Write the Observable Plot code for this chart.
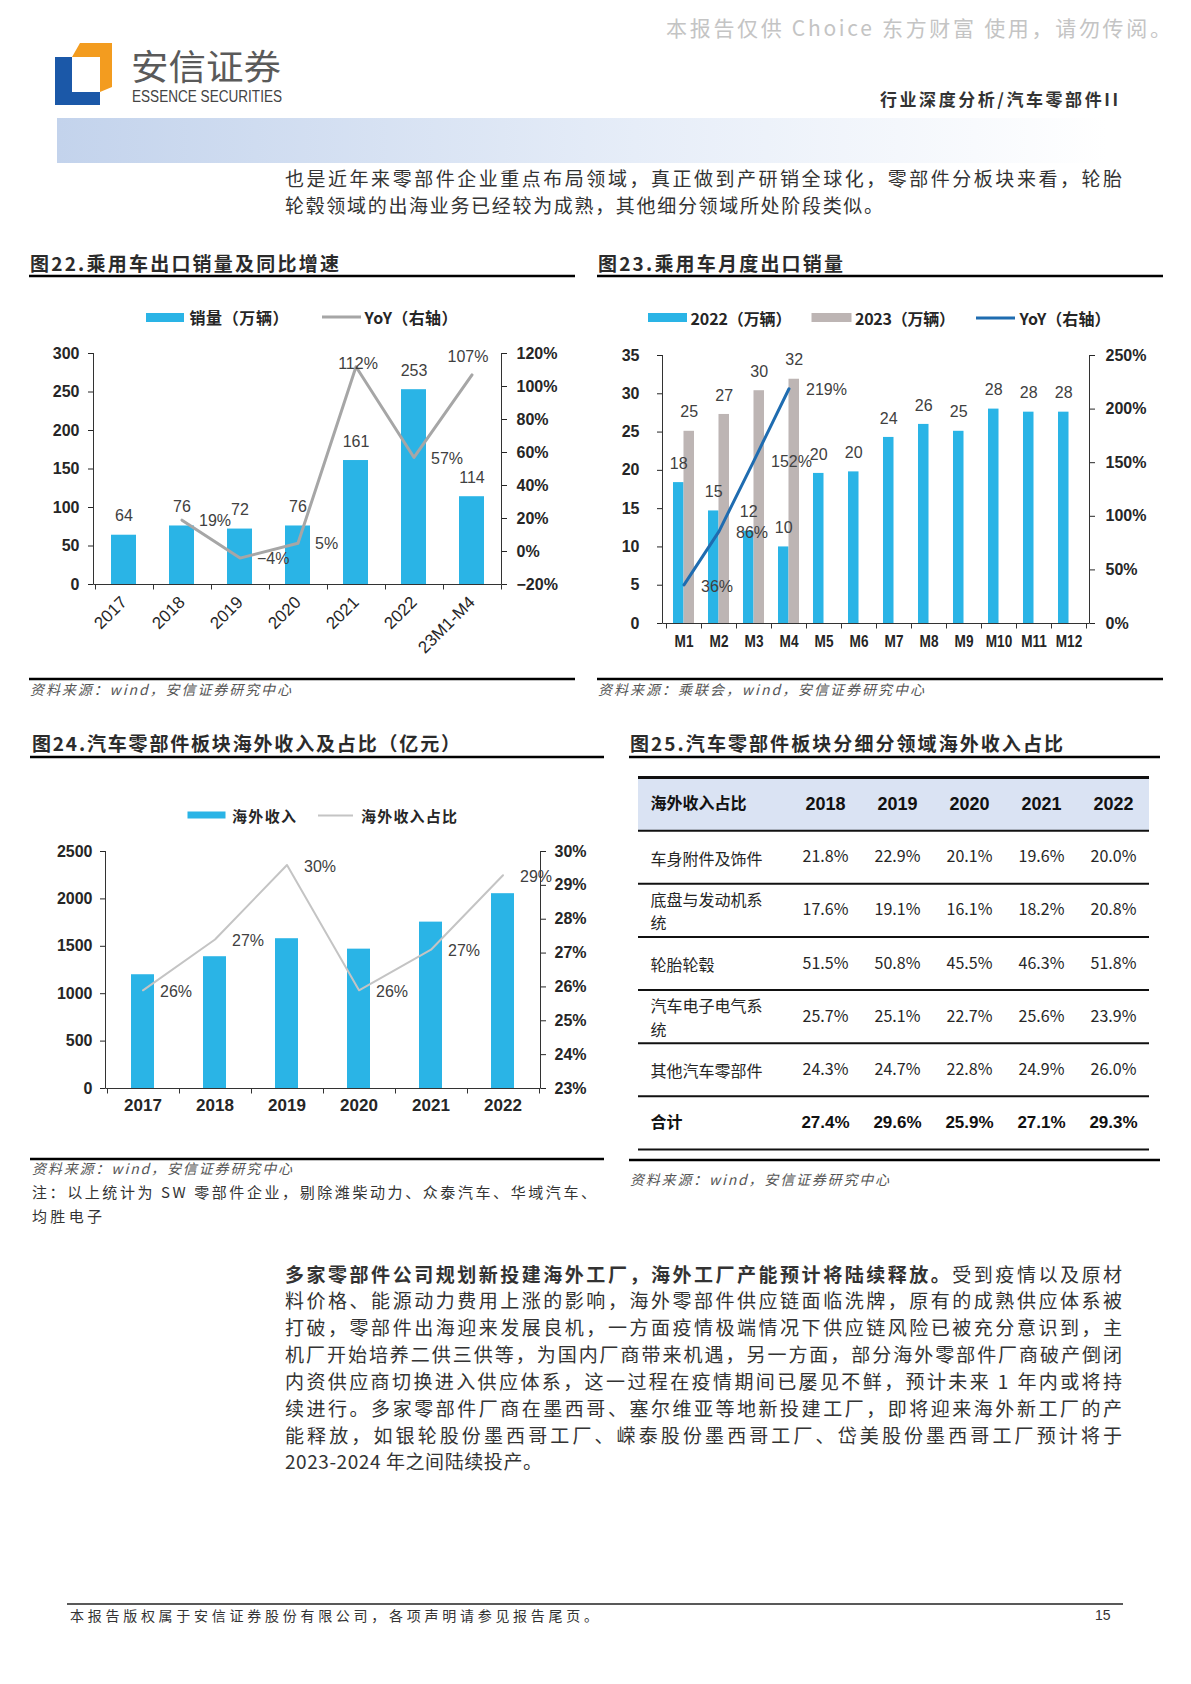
<!DOCTYPE html>
<html><head><meta charset="utf-8">
<script src="https://cdn.jsdelivr.net/npm/d3@7"></script>
<script src="https://cdn.jsdelivr.net/npm/@observablehq/plot@0.6"></script>
<style>
html,body{margin:0;padding:0;background:#fff;}
#page{position:relative;width:1191px;height:1684px;overflow:hidden;background:#fff;}
#page > svg, #page > figure{position:absolute;margin:0;}
</style></head>
<body><div id="page"><svg id="bg" width="1191" height="1684" style="left:0;top:0"></svg></div>
<script>
// ================= DATA =================
// Fig 22
const years22 = ["2017", "2018", "2019", "2020", "2021", "2022", "23M1-M4"];
const sales22 = [64, 76, 72, 76, 161, 253, 114];
const yoy22 = [null, 19, -4, 5, 112, 57, 107];
const leftTicks22 = [0, 50, 100, 150, 200, 250, 300];
const rightTicks22 = [-20, 0, 20, 40, 60, 80, 100, 120];
// Fig 23
const months23 = ["M1", "M2", "M3", "M4", "M5", "M6", "M7", "M8", "M9", "M10", "M11", "M12"];
const exports2022 = [18.4, 14.7, 12.05, 10.0, 19.6, 19.8, 24.3, 26.0, 25.1, 28.0, 27.6, 27.6];
const exports2023 = [25.1, 27.3, 30.4, 31.9];
const yoy23 = [36, 86, 152, 219];
const leftTicks23 = [0, 5, 10, 15, 20, 25, 30, 35];
const rightTicks23 = [0, 50, 100, 150, 200, 250];
// Fig 24
const years24 = ["2017", "2018", "2019", "2020", "2021", "2022"];
const overseasRev24 = [1200, 1390, 1580, 1470, 1755, 2055];
const overseasShare24 = [25.9, 27.4, 29.6, 25.9, 27.1, 29.3];
const leftTicks24 = [0, 500, 1000, 1500, 2000, 2500];
const rightTicks24 = [23, 24, 25, 26, 27, 28, 29, 30];
// Fig 25 table
const tableHeader = "海外收入占比";
const tableYears = ["2018", "2019", "2020", "2021", "2022"];
const tableRowNames = ["车身附件及饰件", "底盘与发动机系\n统", "轮胎轮毂", "汽车电子电气系\n统", "其他汽车零部件"];
const shareBodyParts = [21.8, 22.9, 20.1, 19.6, 20.0];
const shareChassis = [17.6, 19.1, 16.1, 18.2, 20.8];
const shareTyres = [51.5, 50.8, 45.5, 46.3, 51.8];
const shareElectronics = [25.7, 25.1, 22.7, 25.6, 23.9];
const shareOthers = [24.3, 24.7, 22.8, 24.9, 26.0];
const totalName = "合计";
const shareTotal = [27.4, 29.6, 25.9, 27.1, 29.3];

// ================= STYLE =================
const BLUE = "#2ab4e6", GRAY23 = "#bdb5b4", YOY23 = "#1f6cb0", LINE22 = "#a6a6a6", LINE24 = "#c4c4c4";
const AXIS = "#333";
const FNUM = "'Liberation Sans', Arial, sans-serif";
const FNARROW = "'Liberation Sans Narrow', 'Arial Narrow', 'Liberation Sans', sans-serif";
const FCJK = "'Noto Sans CJK SC', 'Noto Sans', sans-serif";
const pct = v => (v < 0 ? "\u2212" + Math.abs(v) : String(v)) + "%";
const page = document.getElementById("page");
const bg = d3.select("#bg");

function T(s, x, y, o = {}) {
  const t = bg.append("text").attr("x", x).attr("y", y)
    .attr("dominant-baseline", "central")
    .attr("font-family", o.family || FCJK)
    .attr("font-size", o.size || 16)
    .attr("font-weight", o.weight || "normal")
    .attr("fill", o.fill || "#333");
  if (o.italic) t.attr("font-style", "italic");
  if (o.anchor) t.attr("text-anchor", o.anchor);
  if (o.len) t.attr("textLength", o.len).attr("lengthAdjust", o.adjust || "spacing");
  if (o.parts) o.parts.forEach(p => t.append("tspan").attr("font-weight", p.weight || "normal").text(p.text));
  else t.text(s);
  return t;
}
function L(x1, x2, y, w = 2, c = "#000") {
  bg.append("line").attr("x1", x1).attr("x2", x2).attr("y1", y).attr("y2", y).attr("stroke", c).attr("stroke-width", w);
}
function place(el, left, top) { el.style.left = left + "px"; el.style.top = top + "px"; page.appendChild(el); }
// condense already-rendered labels (simulates a narrow typeface)
function condense(svg, selector, factor) {
  d3.select(svg).selectAll(selector).each(function () {
    const w = this.getComputedTextLength();
    if (w > 0) d3.select(this).attr("textLength", w * factor).attr("lengthAdjust", "spacingAndGlyphs");
  });
}

function frameEdges(sides) {
  return (index, scales, values, dims) => {
    const {width, height, marginLeft: ml, marginRight: mr, marginTop: mt, marginBottom: mb} = dims;
    const Lx = Math.round(ml) + 0.5, R = Math.round(width - mr) + 0.5, B = Math.round(height - mb) + 0.5;
    const g = d3.create("svg:g").attr("stroke", AXIS).attr("stroke-width", 1).attr("fill", "none");
    if (sides.includes("left")) g.append("line").attr("x1", Lx).attr("x2", Lx).attr("y1", mt).attr("y2", B);
    if (sides.includes("right")) g.append("line").attr("x1", R).attr("x2", R).attr("y1", mt).attr("y2", B);
    if (sides.includes("bottom")) g.append("line").attr("x1", Lx).attr("x2", R).attr("y1", B).attr("y2", B);
    return g.node();
  };
}
function bandTicks(len) {
  return (index, scales, values, dims) => {
    const x = scales.x, dom = x.domain();
    let pos;
    if (x.step && x.bandwidth) {
      const pad = (x.step() - x.bandwidth()) / 2;
      pos = dom.map(d => x(d) - pad);
      pos.push(x(dom[dom.length - 1]) + x.bandwidth() + pad);
    } else {
      const w = (dims.width - dims.marginLeft - dims.marginRight) / dom.length;
      pos = d3.range(dom.length + 1).map(k => dims.marginLeft + k * w);
    }
    const B = Math.round(dims.height - dims.marginBottom) + 0.5;
    const g = d3.create("svg:g").attr("stroke", AXIS).attr("stroke-width", 1);
    pos.forEach(p => { const px = Math.round(p) + 0.5; g.append("line").attr("x1", px).attr("x2", px).attr("y1", B).attr("y2", B + len); });
    return g.node();
  };
}
const plotStyle = `font-family:${FNUM};font-size:16px;color:#262626;background:transparent;overflow:visible;`;

// ================= PAGE HEADER =================
T("本报告仅供 Choice 东方财富 使用，请勿传阅。", 666, 27, {size: 21, fill: "#c4c4c4", len: 505});
bg.append("polygon").attr("points", "55,57 72,57 72,92 100,92 100,105 55,105").attr("fill", "#1b58a8");
bg.append("polygon").attr("points", "72,57 80,43 112,43 112,87 100,92 100,57").attr("fill", "#f39c1f");
T("安信证券", 131, 64, {size: 35, fill: "#5a5a5a", len: 150, adjust: "spacingAndGlyphs"});
T("ESSENCE SECURITIES", 132, 96.5, {size: 16, family: FNARROW, fill: "#444", len: 150, adjust: "spacingAndGlyphs"});
T("行业深度分析/汽车零部件II", 880, 98, {size: 17, weight: "bold", fill: "#333", len: 238});
const defs = bg.append("defs");
const grad = defs.append("linearGradient").attr("id", "band").attr("x1", "0").attr("x2", "1").attr("y1", "0").attr("y2", "0");
grad.append("stop").attr("offset", "0").attr("stop-color", "#c3d3ec");
grad.append("stop").attr("offset", "0.55").attr("stop-color", "#e6edf8");
grad.append("stop").attr("offset", "1").attr("stop-color", "#ffffff");
bg.append("rect").attr("x", 57).attr("y", 118).attr("width", 1050).attr("height", 45).attr("fill", "url(#band)");

T("也是近年来零部件企业重点布局领域，真正做到产研销全球化，零部件分板块来看，轮胎", 285, 177, {size: 19, fill: "#333", len: 837});
T("轮毂领域的出海业务已经较为成熟，其他细分领域所处阶段类似。", 285, 204, {size: 19, fill: "#333", len: 598});

// ================= TITLES / RULES =================
T("图22.乘用车出口销量及同比增速", 30, 262, {size: 19, weight: "bold", fill: "#2b2b2b", len: 309});
T("图23.乘用车月度出口销量", 598, 262, {size: 19, weight: "bold", fill: "#2b2b2b", len: 245});
L(29, 575, 276, 2.5); L(597, 1163, 276, 2.5);
L(29, 575, 679, 2.5); L(597, 1163, 679, 2.5);
T("资料来源：wind，安信证券研究中心", 30, 689, {size: 14, italic: true, fill: "#555", len: 261});
T("资料来源：乘联会，wind，安信证券研究中心", 598, 689, {size: 14, italic: true, fill: "#555", len: 326});

T("图24.汽车零部件板块海外收入及占比（亿元）", 32, 742, {size: 19, weight: "bold", fill: "#2b2b2b", len: 428});
T("图25.汽车零部件板块分细分领域海外收入占比", 630, 742, {size: 19, weight: "bold", fill: "#2b2b2b", len: 433});
L(30, 604, 757, 2.5); L(629, 1160, 757, 2.5);
L(30, 604, 1159, 2.5); L(629, 1160, 1160, 2.5);
T("资料来源：wind，安信证券研究中心", 32, 1168, {size: 14, italic: true, fill: "#555", len: 260});
T("注：以上统计为 SW 零部件企业，剔除潍柴动力、众泰汽车、华域汽车、", 32, 1191, {size: 15, fill: "#333", len: 564});
T("均胜电子", 32, 1215, {size: 15, fill: "#333", len: 70});
T("资料来源：wind，安信证券研究中心", 630, 1179, {size: 14, italic: true, fill: "#555", len: 259});

// ================= LEGENDS =================
bg.append("rect").attr("x", 146).attr("y", 313).attr("width", 38).attr("height", 9).attr("fill", BLUE);
T("销量（万辆）", 189.5, 317, {size: 16, weight: "bold", fill: "#262626", len: 99});
L(322, 361, 317, 3, LINE22);
T("YoY（右轴）", 364.5, 317, {size: 16, weight: "bold", fill: "#262626", len: 93});

bg.append("rect").attr("x", 648).attr("y", 313).attr("width", 39).attr("height", 9).attr("fill", BLUE);
T("2022（万辆）", 690.5, 317.5, {size: 16, weight: "bold", fill: "#262626", len: 101});
bg.append("rect").attr("x", 811.5).attr("y", 313).attr("width", 40).attr("height", 9).attr("fill", GRAY23);
T("2023（万辆）", 855, 317.5, {size: 16, weight: "bold", fill: "#262626", len: 100});
L(976, 1015, 318, 3, YOY23);
T("YoY（右轴）", 1019.5, 317.5, {size: 16, weight: "bold", fill: "#262626", len: 91});

bg.append("rect").attr("x", 187.5).attr("y", 811.5).attr("width", 38).attr("height", 7).attr("fill", BLUE);
T("海外收入", 232, 815.5, {size: 15, weight: "bold", fill: "#262626", len: 64});
L(318, 353, 815.5, 2, LINE24);
T("海外收入占比", 361, 815.5, {size: 15, weight: "bold", fill: "#262626", len: 96});

// ================= BODY TEXT =================
const body2 = [
  "料价格、能源动力费用上涨的影响，海外零部件供应链面临洗牌，原有的成熟供应体系被",
  "打破，零部件出海迎来发展良机，一方面疫情极端情况下供应链风险已被充分意识到，主",
  "机厂开始培养二供三供等，为国内厂商带来机遇，另一方面，部分海外零部件厂商破产倒闭",
  "内资供应商切换进入供应体系，这一过程在疫情期间已屡见不鲜，预计未来 1 年内或将持",
  "续进行。多家零部件厂商在墨西哥、塞尔维亚等地新投建工厂，即将迎来海外新工厂的产",
  "能释放，如银轮股份墨西哥工厂、嵘泰股份墨西哥工厂、岱美股份墨西哥工厂预计将于"
];
T(null, 285, 1273, {size: 19, fill: "#333", len: 837, parts: [
  {text: "多家零部件公司规划新投建海外工厂，海外工厂产能预计将陆续释放。", weight: "bold"},
  {text: "受到疫情以及原材"}]});
body2.forEach((s, i) => T(s, 285, 1273 + (i + 1) * 26.85, {size: 19, fill: "#333", len: 837}));
T("2023-2024 年之间陆续投产。", 285, 1273 + 7 * 26.85, {size: 19, fill: "#333", len: 257});

// ================= FOOTER =================
L(67, 1123, 1604, 1.5, "#222");
T("本报告版权属于安信证券股份有限公司，各项声明请参见报告尾页。", 70, 1615, {size: 14, fill: "#333", len: 528});
T("15", 1095, 1615, {size: 14, fill: "#333", family: FNUM});

// ================= FIG 22 =================
{
  const d = years22.map((year, i) => ({year, sales: sales22[i], yoy: yoy22[i]}));
  const toL = r => (r + 20) / 140 * 300, fromL = v => Math.round(v * 140 / 300 - 20);
  const above = new Set(["2021", "23M1-M4"]);
  const dl = d.filter(e => e.yoy != null);
  const chart = Plot.plot({
    width: 530, height: 320, marginLeft: 63, marginRight: 59, marginTop: 13, marginBottom: 76,
    style: plotStyle,
    x: {type: "band", domain: years22, paddingInner: 0.57, paddingOuter: 0.285},
    y: {domain: [0, 300]},
    marks: [
      Plot.barY(d, {x: "year", y: "sales", fill: BLUE}),
      Plot.text(d, {x: "year", y: "sales", text: e => String(e.sales), dy: -19, fill: "#404040", fontSize: 16}),
      Plot.line(dl, {x: "year", y: e => toL(e.yoy), stroke: LINE22, strokeWidth: 3}),
      Plot.text(dl.filter(e => !above.has(e.year)), {x: "year", y: e => toL(e.yoy), text: e => pct(e.yoy), textAnchor: "start", dx: 17, dy: 1, fill: "#404040", fontSize: 16}),
      Plot.text(dl.filter(e => e.year === "2021"), {x: "year", y: e => toL(e.yoy), text: e => pct(e.yoy), dy: -3, dx: 2, fill: "#404040", fontSize: 16}),
      Plot.text(dl.filter(e => e.year === "23M1-M4"), {x: "year", y: e => toL(e.yoy), text: e => pct(e.yoy), dy: -18, dx: -4, fill: "#404040", fontSize: 16}),
      Plot.axisY(leftTicks22, {anchor: "left", tickSize: 5, tickPadding: 9, tickFormat: v => String(v), fontWeight: "bold", fontSize: 16, label: null}),
      Plot.axisY(rightTicks22.map(toL), {anchor: "right", tickSize: 5, tickPadding: 10, tickFormat: v => pct(fromL(v)), fontWeight: "bold", fontSize: 16, label: null}),
      Plot.axisX({tickSize: 0, tickRotate: -45, tickPadding: 15, fontSize: 17, label: null}),
      frameEdges(["left", "right", "bottom"]),
      bandTicks(5)
    ]
  });
  place(chart, 30, 340);
}

// ================= FIG 23 =================
{
  const innerW = 560 - 62 - 71, pIn = 0.41;
  const bw = innerW / months23.length * (1 - pIn);
  const a = months23.map((m, i) => ({m, v: exports2022[i]}));
  const b = exports2023.map((v, i) => ({m: months23[i], v}));
  const yy = yoy23.map((v, i) => ({m: months23[i], v}));
  const toL = r => r * 35 / 250, fromL = v => Math.round(v * 250 / 35);
  const chart = Plot.plot({
    width: 560, height: 323, marginLeft: 62, marginRight: 71, marginTop: 15, marginBottom: 40,
    style: plotStyle,
    x: {type: "band", domain: months23, paddingInner: pIn, paddingOuter: pIn / 2},
    y: {domain: [0, 35]},
    marks: [
      Plot.barY(a, {x: "m", y: "v", fill: BLUE, insetRight: bw / 2}),
      Plot.barY(b, {x: "m", y: "v", fill: GRAY23, insetLeft: bw / 2}),
      Plot.text(a, {x: "m", y: "v", text: e => String(Math.round(e.v)), dx: -bw / 4, dy: -19, fill: "#404040", fontSize: 16}),
      Plot.text(b, {x: "m", y: "v", text: e => String(Math.round(e.v)), dx: bw / 4, dy: -19, fill: "#404040", fontSize: 16}),
      Plot.line(yy, {x: "m", y: e => toL(e.v), stroke: YOY23, strokeWidth: 3}),
      Plot.text(yy, {x: "m", y: e => toL(e.v), text: e => pct(e.v), textAnchor: "start", dx: 17, dy: 1.5, fill: "#404040", fontSize: 16}),
      Plot.axisY(leftTicks23, {anchor: "left", tickSize: 5, tickPadding: 18, tickFormat: v => String(v), fontWeight: "bold", fontSize: 16, label: null}),
      Plot.axisY(rightTicks23.map(toL), {anchor: "right", tickSize: 5, tickPadding: 11, tickFormat: v => pct(fromL(v)), fontWeight: "bold", fontSize: 16, label: null}),
      Plot.axisX({tickSize: 0, tickPadding: 11, fontWeight: "bold", fontSize: 17, label: null}),
      frameEdges(["left", "right", "bottom"]),
      bandTicks(5)
    ]
  });
  place(chart, 600, 340);
  condense(chart, '[aria-label="x-axis tick label"] text', 0.8);
}

// ================= FIG 24 =================
{
  const d = years24.map((year, i) => ({year, rev: overseasRev24[i], share: overseasShare24[i]}));
  const toL = r => (r - 23) / 7 * 2500, fromL = v => Math.round(v * 7 / 2500 + 23);
  const chart = Plot.plot({
    width: 580, height: 293, marginLeft: 75, marginRight: 70, marginTop: 16, marginBottom: 40,
    style: plotStyle,
    x: {type: "band", domain: years24, paddingInner: 0.683, paddingOuter: 0.3415},
    y: {domain: [0, 2500]},
    marks: [
      Plot.barY(d, {x: "year", y: "rev", fill: BLUE}),
      Plot.line(d, {x: "year", y: e => toL(e.share), stroke: LINE24, strokeWidth: 2}),
      Plot.text(d, {x: "year", y: e => toL(e.share), text: e => Math.round(e.share) + "%", textAnchor: "start", dx: 17, dy: 1.5, fill: "#404040", fontSize: 16}),
      Plot.axisY(leftTicks24, {anchor: "left", tickSize: 5, tickPadding: 8, tickFormat: v => String(v), fontWeight: "bold", fontSize: 16, label: null}),
      Plot.axisY(rightTicks24.map(toL), {anchor: "right", tickSize: 5, tickPadding: 9, tickFormat: v => fromL(v) + "%", fontWeight: "bold", fontSize: 16, label: null}),
      Plot.axisX({tickSize: 0, tickPadding: 10, fontWeight: "bold", fontSize: 17, label: null}),
      frameEdges(["left", "right", "bottom"]),
      bandTicks(5)
    ]
  });
  place(chart, 30, 835);
}

// ================= FIG 25 TABLE =================
{
  const rowsVals = [shareBodyParts, shareChassis, shareTyres, shareElectronics, shareOthers];
  const cells = [];
  rowsVals.forEach((arr, i) => arr.forEach((v, j) => cells.push({row: i + 1, year: tableYears[j], v})));
  const totals = shareTotal.map((v, j) => ({row: rowsVals.length + 1, year: tableYears[j], v}));
  const nRows = rowsVals.length + 2;
  const chart = Plot.plot({
    width: 530, height: 384, marginLeft: 8, marginRight: 11, marginTop: 7, marginBottom: 5,
    style: plotStyle,
    x: {type: "point", domain: tableYears, range: [195, 483], padding: 0, axis: null},
    y: {domain: [0, nRows], reverse: true, axis: null},
    marks: [
      Plot.rect([0], {y1: r => r, y2: r => r + 1, fill: "#dae3f3"}),
      Plot.ruleY([0], {stroke: "#111", strokeWidth: 3}),
      Plot.ruleY(d3.range(1, nRows + 1), {stroke: "#111", strokeWidth: 2}),
      Plot.text([tableHeader], {y: () => 0.5, frameAnchor: "left", dx: 12, text: s => s, fontFamily: FCJK, fontWeight: "bold", fontSize: 16, fill: "#111", ariaLabel: "tbl-cjk"}),
      Plot.text(tableYears, {x: s => s, y: () => 0.5, text: s => s, fontWeight: "bold", fontSize: 18, fill: "#111"}),
      Plot.text(tableRowNames, {y: (s, i) => i + 1.5, frameAnchor: "left", dx: 12, text: s => s, fontFamily: FCJK, fontSize: 16, lineHeight: 1.45, fill: "#262626", ariaLabel: "tbl-cjk"}),
      Plot.text(cells, {x: "year", y: c => c.row + 0.5, text: c => c.v.toFixed(1) + "%", fontFamily: FCJK, fontSize: 16, fill: "#262626", ariaLabel: "tbl-num"}),
      Plot.text([totalName], {y: () => nRows - 0.5, frameAnchor: "left", dx: 12, text: s => s, fontFamily: FCJK, fontWeight: "bold", fontSize: 16, fill: "#111", ariaLabel: "tbl-cjk"}),
      Plot.text(totals, {x: "year", y: c => c.row + 0.5, text: c => c.v.toFixed(1) + "%", fontWeight: "bold", fontSize: 17, fill: "#111"})
    ]
  });
  d3.select(chart).selectAll('[aria-label="tbl-cjk"]').style("letter-spacing", "2.6px");
  d3.select(chart).selectAll('[aria-label="tbl-num"]').style("letter-spacing", "0.5px");
  place(chart, 630, 770);
}
</script></body></html>
